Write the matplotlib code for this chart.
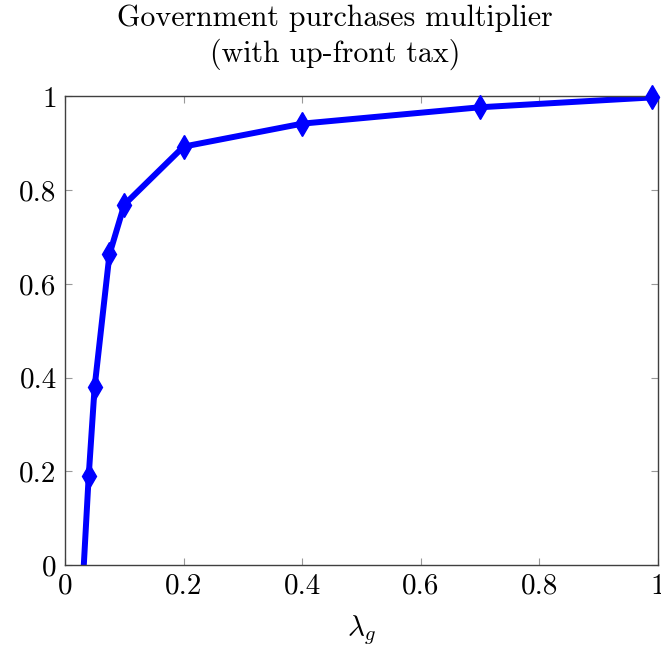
import numpy as np
import matplotlib
matplotlib.use('Agg')
import matplotlib.pyplot as plt

# значения λ_g и множителя
lam_g = [0.03, 0.04, 0.05, 0.075, 0.1, 0.2, 0.4, 0.7, 0.99]
multiplier = [-0.04, 0.19, 0.38, 0.663, 0.769, 0.893, 0.942, 0.977, 0.998]

xticks = [0, 0.2, 0.4, 0.6, 0.8, 1]
yticks = [0, 0.2, 0.4, 0.6, 0.8, 1]
tick_labels = ['0', '0.2', '0.4', '0.6', '0.8', '1']

plt.rcParams['font.family'] = 'serif'
plt.rcParams['font.serif'] = ['cmr10']
plt.rcParams['mathtext.fontset'] = 'cm'
plt.rcParams['axes.formatter.use_mathtext'] = True

fig = plt.figure(figsize=(6.61, 6.51), dpi=100)
ax = fig.add_axes([0.0983, 0.1321, 0.8972, 0.7197])

# линия обрезается осями, маркеры внутри диапазона рисуем без обрезки
ax.plot(lam_g, multiplier, color='#0000ff', linewidth=4.3,
        solid_joinstyle='round')
inside = [i for i, v in enumerate(multiplier) if v >= 0]
ax.plot([lam_g[i] for i in inside], [multiplier[i] for i in inside],
        linestyle='none', color='#0000ff', marker='d', markersize=12.5,
        clip_on=False, zorder=3)

ax.set_xlim(0, 1)
ax.set_ylim(0, 1)
ax.set_xticks(xticks)
ax.set_xticklabels(tick_labels)
ax.set_yticks(yticks)
ax.set_yticklabels(tick_labels)
ax.tick_params(direction='in', length=5, width=0.8, color='#999999',
               top=True, right=True, labelsize=21, pad=6)
for s in ax.spines.values():
    s.set_color('#404040')
    s.set_linewidth(1.0)

ax.set_xlabel(r'$\lambda_g$', fontsize=21, labelpad=10)
ax.set_title('Government purchases multiplier\n(with up-front tax)',
             fontsize=21.5, pad=25, linespacing=1.3, x=0.455)

fig.savefig('out.png', dpi=100)
